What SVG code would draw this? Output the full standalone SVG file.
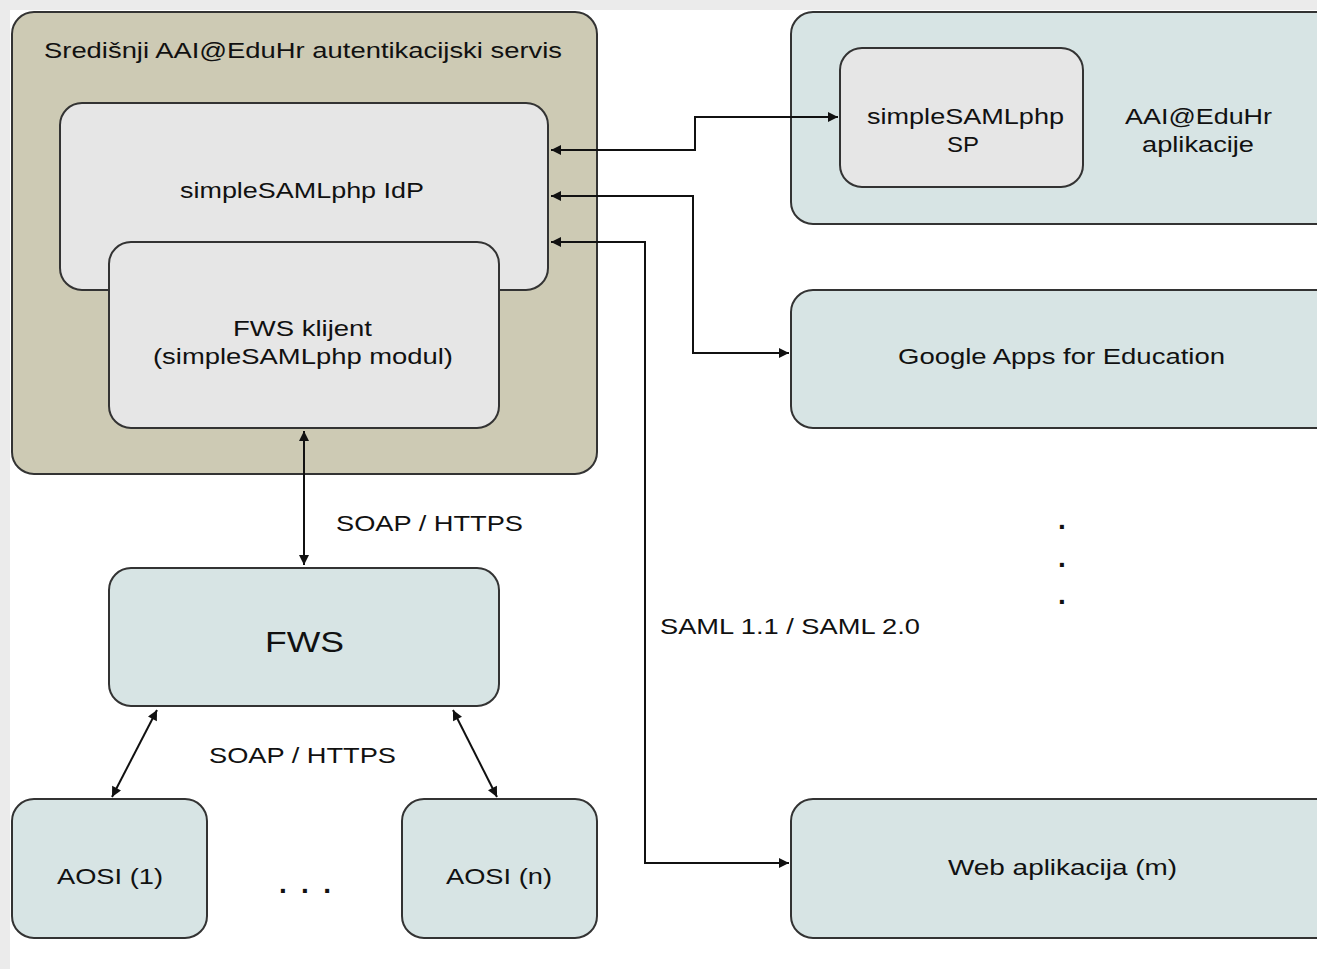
<svg xmlns="http://www.w3.org/2000/svg" width="1317" height="969" viewBox="0 0 1317 969">
<defs>
<style>
.box{stroke:#333333;stroke-width:2}
.tan{fill:#cdcab4}
.gray{fill:#e6e6e6}
.blue{fill:#d7e4e4}
text{font-family:"Liberation Sans",Arial,sans-serif;font-size:22px;fill:#111111}
.c{text-anchor:middle}
.dot{font-size:28px;font-weight:bold}
.con{fill:none;stroke:#111111;stroke-width:2}
</style>
<marker id="ah" viewBox="0 0 10 10" refX="10" refY="5" markerWidth="12" markerHeight="10" markerUnits="userSpaceOnUse" orient="auto-start-reverse">
<path d="M0,0 L10,5 L0,10 z" fill="#111111"/>
</marker>
</defs>
<rect x="0" y="0" width="1317" height="969" fill="#ffffff"/>
<rect x="0" y="0" width="1317" height="10" fill="#ebebeb"/>
<rect x="0" y="0" width="10" height="969" fill="#ebebeb"/>

<g id="central">
<rect class="box tan" x="12" y="12" width="585" height="462" rx="22"/>
<text x="44" y="58" textLength="518" lengthAdjust="spacingAndGlyphs">Središnji AAI@EduHr autentikacijski servis</text>
</g>
<g id="idp">
<rect class="box gray" x="60" y="103" width="488" height="187" rx="22"/>
<text x="180" y="198" textLength="244" lengthAdjust="spacingAndGlyphs">simpleSAMLphp IdP</text>
</g>
<g id="fwsklijent">
<rect class="box gray" x="109" y="242" width="390" height="186" rx="22"/>
<text x="233" y="336" textLength="139" lengthAdjust="spacingAndGlyphs">FWS klijent</text>
<text x="153" y="364" textLength="300" lengthAdjust="spacingAndGlyphs">(simpleSAMLphp modul)</text>
</g>
<g id="aaiapps">
<rect class="box blue" x="791" y="12" width="560" height="212" rx="22"/>
<text x="1125" y="124" textLength="147" lengthAdjust="spacingAndGlyphs">AAI@EduHr</text>
<text x="1142" y="152" textLength="112" lengthAdjust="spacingAndGlyphs">aplikacije</text>
</g>
<g id="sp">
<rect class="box gray" x="840" y="48" width="243" height="139" rx="22"/>
<text x="867" y="124" textLength="197" lengthAdjust="spacingAndGlyphs">simpleSAMLphp</text>
<text x="947" y="152" textLength="32" lengthAdjust="spacingAndGlyphs">SP</text>
</g>
<g id="google">
<rect class="box blue" x="791" y="290" width="560" height="138" rx="22"/>
<text x="898" y="364" textLength="327" lengthAdjust="spacingAndGlyphs">Google Apps for Education</text>
</g>
<g id="web">
<rect class="box blue" x="791" y="799" width="560" height="139" rx="22"/>
<text x="948" y="875" textLength="229" lengthAdjust="spacingAndGlyphs">Web aplikacija (m)</text>
</g>
<g id="fws">
<rect class="box blue" x="109" y="568" width="390" height="138" rx="22"/>
<text x="265" y="652" style="font-size:30px" textLength="79" lengthAdjust="spacingAndGlyphs">FWS</text>
</g>
<g id="aosi1">
<rect class="box blue" x="12" y="799" width="195" height="139" rx="22"/>
<text x="57" y="884" textLength="106" lengthAdjust="spacingAndGlyphs">AOSI (1)</text>
</g>
<g id="aosin">
<rect class="box blue" x="402" y="799" width="195" height="139" rx="22"/>
<text x="446" y="884" textLength="106" lengthAdjust="spacingAndGlyphs">AOSI (n)</text>
</g>

<g id="connectors">
<path class="con" d="M551,150 H695 V117 H838" marker-start="url(#ah)" marker-end="url(#ah)"/>
<path class="con" d="M551,196 H693 V353 H789" marker-start="url(#ah)" marker-end="url(#ah)"/>
<path class="con" d="M551,242 H645 V863 H789" marker-start="url(#ah)" marker-end="url(#ah)"/>
<path class="con" d="M304,431 V565" marker-start="url(#ah)" marker-end="url(#ah)"/>
<path class="con" d="M157,710 L112,797" marker-start="url(#ah)" marker-end="url(#ah)"/>
<path class="con" d="M453,710 L497,797" marker-start="url(#ah)" marker-end="url(#ah)"/>
<text x="336" y="531" textLength="187" lengthAdjust="spacingAndGlyphs">SOAP / HTTPS</text>
<text x="209" y="763" textLength="187" lengthAdjust="spacingAndGlyphs">SOAP / HTTPS</text>
<text x="660" y="634" textLength="260" lengthAdjust="spacingAndGlyphs">SAML 1.1 / SAML 2.0</text>
</g>

<g id="dots">
<text class="dot" x="279" y="893" textLength="52" lengthAdjust="spacing">. . .</text>
<text class="c dot" x="1062" y="529">.</text>
<text class="c dot" x="1062" y="567">.</text>
<text class="c dot" x="1062" y="604">.</text>
</g>
</svg>
